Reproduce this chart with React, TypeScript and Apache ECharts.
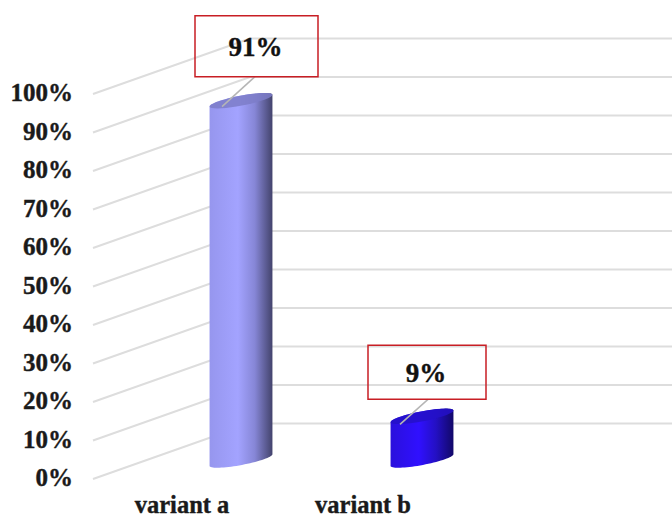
import React, { useEffect, useRef } from "react";
import * as echarts from "echarts";

const categories = ["variant a", "variant b", ""];
const shares = [91, 9];
const wallTicks = [0, 10, 20, 30, 40, 50, 60, 70, 80, 90, 100];

const bodyStops = [
  ["#9696ee", "#a3a3ff", "#8686d6", "#43436c"],
  ["#2a10dc", "#3010ff", "#2410c4", "#120868"],
];
const capColors = ["#7c7cc8", "#2410c8"];
const calloutBoxes = [
  { dx: -46, dy: -85, w: 123, h: 61, lx: -19, ly: 6, ex: 14, ey: -24 },
  { dx: -54, dy: -71, w: 118, h: 54, lx: -22, ly: 8, ex: 6, ey: -17 },
];

const FONT = "'Liberation Serif', 'Times New Roman', serif";
const DEPTH_X = 157;
const DEPTH_Y = -55.5;
const AXIS_SHIFT_X = 57.5;
const BASE_SHIFT_Y = -19;
const TOP_SHIFT_Y = -28;
const TILT = (-10.8 * Math.PI) / 180;
const SEMI_MAJOR = 32;
const SEMI_MINOR = 5;

// Point on the tilted ellipse that forms a cylinder end.
function rimPoint(cx: number, cy: number, t: number): number[] {
  const u = SEMI_MAJOR * Math.cos(t);
  const v = SEMI_MINOR * Math.sin(t);
  return [
    cx + u * Math.cos(TILT) - v * Math.sin(TILT),
    cy + u * Math.sin(TILT) + v * Math.cos(TILT),
  ];
}

function arc(cx: number, cy: number, from: number, to: number): number[][] {
  const steps = 36;
  const pts: number[][] = [];
  for (let i = 0; i <= steps; i++) {
    pts.push(rimPoint(cx, cy, from + ((to - from) * i) / steps));
  }
  return pts;
}

// Gridline on the floor/side wall, then along the back wall to the page edge.
function renderWall(params: any, api: any) {
  const v = api.value(1);
  const start = [params.coordSys.x, api.coord([0, v])[1]];
  const corner = [start[0] + DEPTH_X, start[1] + DEPTH_Y];
  return {
    type: "polyline",
    silent: true,
    shape: { points: [start, corner, [api.getWidth(), corner[1]]] },
    style: { stroke: "#dddddd", lineWidth: 2, fill: "none" },
  };
}

function renderCylinder(params: any, api: any) {
  const i = params.dataIndex;
  const base = api.coord([api.value(0), 0]);
  const top = api.coord([api.value(0), api.value(1)]);
  const cx = base[0] + AXIS_SHIFT_X;
  const yBase = base[1] + BASE_SHIFT_Y;
  const yTop = top[1] + TOP_SHIFT_Y;
  const stops = bodyStops[i];
  const outline = [
    ...arc(cx, yBase, Math.PI, 0),
    ...arc(cx, yTop, 0, -Math.PI),
  ];
  return {
    type: "group",
    children: [
      {
        type: "polygon",
        shape: { points: outline },
        style: {
          fill: new echarts.graphic.LinearGradient(0, 0, 1, 0, [
            { offset: 0, color: stops[0] },
            { offset: 0.45, color: stops[1] },
            { offset: 0.72, color: stops[2] },
            { offset: 1, color: stops[3] },
          ]),
        },
      },
      {
        type: "polygon",
        shape: { points: arc(cx, yTop, 0, Math.PI * 2) },
        style: { fill: capColors[i], opacity: 0.85 },
      },
    ],
  };
}

function renderCallout(params: any, api: any) {
  const i = params.dataIndex;
  const v = api.value(1);
  const top = api.coord([api.value(0), v]);
  const cx = top[0] + AXIS_SHIFT_X;
  const cy = top[1] + TOP_SHIFT_Y;
  const box = calloutBoxes[i];
  const x = cx + box.dx;
  const y = cy + box.dy;
  return {
    type: "group",
    children: [
      {
        type: "line",
        shape: { x1: cx + box.lx, y1: cy + box.ly, x2: cx + box.ex, y2: cy + box.ey },
        style: { stroke: "#b5b5b5", lineWidth: 1.5 },
      },
      {
        type: "rect",
        shape: { x, y, width: box.w, height: box.h },
        style: { fill: "none", stroke: "#c81e24", lineWidth: 1.5 },
      },
      {
        type: "text",
        x: x + box.w / 2 - 1,
        y: y + box.h / 2 + 1,
        style: {
          text: `${v}%`,
          fill: "#111111",
          font: `bold 27px ${FONT}`,
          align: "center",
          verticalAlign: "middle",
          stroke: "#111111",
          lineWidth: 0.4,
        },
      },
    ],
  };
}

export default function App() {
  const ref = useRef<HTMLDivElement>(null);

  useEffect(() => {
    const chart = echarts.init(ref.current, null, { renderer: "svg" });
    const points = shares.map((v, i) => [i, v]);
    chart.setOption({
      animation: false,
      backgroundColor: "#ffffff",
      grid: { left: 93, top: 94, width: 543, height: 385, outerBoundsMode: "none" },
      xAxis: {
        type: "category",
        data: categories,
        axisLine: { show: false },
        axisTick: { show: false },
        axisLabel: {
          margin: 16,
          lineHeight: 18,
          padding: [0, 3, 0, 0],
          color: "#1a1a1a",
          fontFamily: FONT,
          fontWeight: "bold",
          fontSize: 24.5,
          textBorderColor: "#1a1a1a",
          textBorderWidth: 0.4,
        },
      },
      yAxis: {
        type: "value",
        min: 0,
        max: 100,
        interval: 10,
        axisLine: { show: false },
        axisTick: { show: false },
        splitLine: { show: false },
        axisLabel: {
          margin: 20,
          verticalAlign: "bottom",
          lineHeight: 3,
          formatter: "{value}%",
          color: "#1a1a1a",
          fontFamily: FONT,
          fontWeight: "bold",
          fontSize: 25,
          textBorderColor: "#1a1a1a",
          textBorderWidth: 0.4,
        },
      },
      series: [
        {
          type: "custom",
          renderItem: renderWall,
          data: wallTicks.map((v) => [0, v]),
          z: 1,
          silent: true,
        },
        { type: "custom", renderItem: renderCylinder, data: points, z: 2, silent: true },
        { type: "custom", renderItem: renderCallout, data: points, z: 3, silent: true },
      ],
    });
    return () => chart.dispose();
  }, []);

  return (
    <div
      ref={ref}
      style={{ position: "fixed", left: 0, top: 0, width: 672, height: 516 }}
    />
  );
}
